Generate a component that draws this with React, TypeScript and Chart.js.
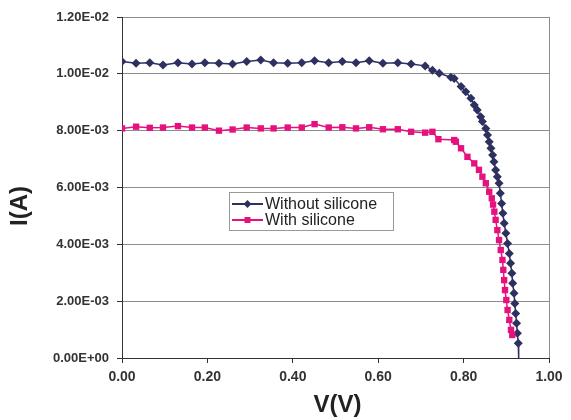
import React, { useEffect, useRef } from "react";
import { Chart, registerables } from "chart.js";

Chart.register(...registerables);

// Voltage (V) and current (A) — without silicone
const V_WITHOUT = [
  0.0, 0.033, 0.065, 0.096, 0.131, 0.164, 0.194, 0.227, 0.259, 0.292, 0.325, 0.355, 0.388, 0.421, 0.451, 0.484,
  0.516, 0.548, 0.579, 0.611, 0.646, 0.677, 0.71, 0.727, 0.743, 0.77, 0.778, 0.794, 0.805, 0.817, 0.825, 0.832,
  0.84, 0.844, 0.852, 0.856, 0.86, 0.864, 0.868, 0.871, 0.875, 0.879, 0.883, 0.886, 0.889, 0.892, 0.895, 0.899,
  0.903, 0.907, 0.91, 0.913, 0.915, 0.918, 0.92, 0.922, 0.924, 0.926, 0.928, 0.929,
];
const I_WITHOUT = [
  0.01043, 0.01037, 0.01039, 0.01031, 0.01039, 0.01035, 0.01039, 0.01037, 0.01035, 0.01043, 0.01049, 0.01039,
  0.01037, 0.01039, 0.01046, 0.01039, 0.01043, 0.01039, 0.01046, 0.01037, 0.01039, 0.01035, 0.01028, 0.01013,
  0.01002, 0.00988, 0.00984, 0.00955, 0.00937, 0.00914, 0.0089, 0.00873, 0.00849, 0.00832, 0.00808, 0.00785,
  0.00761, 0.00738, 0.00714, 0.00691, 0.00662, 0.00638, 0.00615, 0.0058, 0.00544, 0.00509, 0.00474, 0.00439,
  0.00403, 0.00368, 0.00333, 0.00298, 0.00263, 0.00228, 0.00192, 0.00157, 0.00122, 0.00087, 0.00052, 0.0,
];

// Voltage (V) and current (A) — with silicone
const V_WITH = [
  0.0, 0.033, 0.065, 0.096, 0.131, 0.164, 0.194, 0.227, 0.259, 0.292, 0.325, 0.355, 0.388, 0.421, 0.451, 0.484,
  0.516, 0.548, 0.579, 0.611, 0.646, 0.677, 0.71, 0.727, 0.741, 0.778, 0.782, 0.794, 0.809, 0.825, 0.836, 0.844,
  0.852, 0.86, 0.866, 0.869, 0.872, 0.875, 0.879, 0.883, 0.887, 0.891, 0.893, 0.895, 0.897, 0.9, 0.903, 0.907,
  0.911, 0.914,
];
const I_WITH = [
  0.00808, 0.00814, 0.0081, 0.00811, 0.00816, 0.00811, 0.00811, 0.008, 0.00804, 0.00811, 0.00808, 0.00808,
  0.00811, 0.00811, 0.00823, 0.00811, 0.00812, 0.00808, 0.00812, 0.00805, 0.00805, 0.00796, 0.00793, 0.00796,
  0.0077, 0.00767, 0.00761, 0.00738, 0.00708, 0.00685, 0.00662, 0.00638, 0.00615, 0.00585, 0.00562, 0.0054,
  0.00515, 0.00486, 0.0045, 0.00415, 0.0038, 0.00345, 0.0031, 0.00274, 0.00239, 0.00204, 0.00169, 0.00134,
  0.00099, 0.00081,
];

const SERIES_NAMES = ["Without silicone", "With silicone"];
const X_TITLE = "V(V)";
const Y_TITLE = "I(A)";
const X_MIN = 0;
const X_MAX = 1;
const X_STEP = 0.2;
const Y_MIN = 0;
const Y_MAX = 0.012;
const Y_STEP = 0.002;

const NAVY = "#2e3060";
const MAGENTA = "#e5127d";
const FONT = '"Liberation Sans", Arial, sans-serif';

function sci(v: number): string {
  if (Math.abs(v) < 1e-12) return "0.00E+00";
  const exp = Math.floor(Math.log10(Math.abs(v)) + 1e-9);
  const mant = v / Math.pow(10, exp);
  const sign = exp < 0 ? "-" : "+";
  const e = Math.abs(exp).toString().padStart(2, "0");
  return mant.toFixed(2) + "E" + sign + e;
}

const overlayPlugin = {
  id: "overlay",
  afterDraw(chart: any) {
    const { ctx, chartArea } = chart;
    const { left, right, top, bottom } = chartArea;
    ctx.save();
    // right border of plot area
    ctx.strokeStyle = "#8c8c8c";
    ctx.lineWidth = 1;
    ctx.beginPath();
    ctx.moveTo(Math.round(right) + 0.5, top);
    ctx.lineTo(Math.round(right) + 0.5, bottom);
    ctx.stroke();

    // axis titles
    ctx.fillStyle = "#222";
    ctx.font = "bold 24px " + FONT;
    ctx.textAlign = "center";
    ctx.textBaseline = "middle";
    ctx.fillText(X_TITLE, (left + right) / 2 + 2, 405);
    ctx.save();
    ctx.translate(20, 206);
    ctx.rotate(-Math.PI / 2);
    ctx.fillText(Y_TITLE, 0, 0);
    ctx.restore();

    // legend
    const bx = 229.5, by = 192.5, bw = 164, bh = 38;
    ctx.fillStyle = "#fff";
    ctx.fillRect(bx, by, bw, bh);
    ctx.strokeStyle = "#999";
    ctx.lineWidth = 1;
    ctx.strokeRect(bx, by, bw, bh);
    const rows = [
      { name: SERIES_NAMES[0], color: NAVY, style: "diamond", y: 204 },
      { name: SERIES_NAMES[1], color: MAGENTA, style: "square", y: 220 },
    ];
    rows.forEach((r) => {
      ctx.strokeStyle = r.color;
      ctx.lineWidth = 2;
      ctx.beginPath();
      ctx.moveTo(232, r.y);
      ctx.lineTo(263, r.y);
      ctx.stroke();
      ctx.fillStyle = r.color;
      ctx.beginPath();
      if (r.style === "diamond") {
        ctx.moveTo(247.5, r.y - 4);
        ctx.lineTo(251.5, r.y);
        ctx.lineTo(247.5, r.y + 4);
        ctx.lineTo(243.5, r.y);
        ctx.closePath();
      } else {
        ctx.rect(244.5, r.y - 3, 6, 6);
      }
      ctx.fill();
      ctx.fillStyle = "#222";
      ctx.font = "16px " + FONT;
      ctx.textAlign = "left";
      ctx.textBaseline = "middle";
      ctx.fillText(r.name, 265, r.y + 1);
    });
    ctx.restore();
  },
};

export default function App() {
  const canvasRef = useRef<HTMLCanvasElement | null>(null);

  useEffect(() => {
    if (!canvasRef.current) return;
    const withoutData = V_WITHOUT.map((v, i) => ({ x: v, y: I_WITHOUT[i] }));
    const withData = V_WITH.map((v, i) => ({ x: v, y: I_WITH[i] }));
    const lastWithout = withoutData.length - 1;

    const chart = new Chart(canvasRef.current, {
      type: "line",
      data: {
        datasets: [
          {
            label: SERIES_NAMES[1],
            data: withData,
            borderColor: MAGENTA,
            backgroundColor: MAGENTA,
            borderWidth: 1.5,
            pointStyle: "rect",
            pointRadius: 4.5,
            pointBorderWidth: 0,
            tension: 0,
          },
          {
            label: SERIES_NAMES[0],
            data: withoutData,
            borderColor: NAVY,
            backgroundColor: NAVY,
            borderWidth: 1.5,
            pointStyle: "rectRot",
            pointRadius: (c: any) => (c.dataIndex === lastWithout ? 0 : 4.5),
            pointBorderWidth: 0,
            tension: 0,
          },
        ],
      },
      options: {
        animation: false,
        responsive: true,
        maintainAspectRatio: false,
        layout: { padding: { top: 17, right: 22, left: 0, bottom: 0 } },
        plugins: {
          legend: { display: false },
          tooltip: { enabled: false },
        },
        scales: {
          x: {
            type: "linear",
            min: X_MIN,
            max: X_MAX,
            border: { display: true, color: "#333", width: 1 },
            grid: {
              display: true,
              drawOnChartArea: false,
              drawTicks: true,
              tickLength: 5,
              tickColor: "#333",
            },
            ticks: {
              stepSize: X_STEP,
              padding: 6,
              color: "#333",
              font: { family: FONT, size: 14, weight: "bold" },
              maxRotation: 0,
              callback: (v: any) => Number(v).toFixed(2),
            },
            afterFit: (s: any) => {
              s.height = 62;
            },
          },
          y: {
            type: "linear",
            min: Y_MIN,
            max: Y_MAX,
            border: { display: true, color: "#333", width: 1 },
            grid: {
              color: "#8c8c8c",
              lineWidth: 1,
              drawTicks: true,
              tickLength: 5,
              tickColor: "#333",
            },
            ticks: {
              stepSize: Y_STEP,
              padding: 8,
              color: "#333",
              font: { family: FONT, size: 13, weight: "bold" },
              callback: (v: any) => sci(Number(v)),
            },
            afterFit: (s: any) => {
              s.width = 122;
            },
          },
        },
      },
      plugins: [overlayPlugin],
    });
    return () => chart.destroy();
  }, []);

  return (
    <div style={{ position: "fixed", left: 0, top: 0, width: 571, height: 420, background: "#fff" }}>
      <canvas ref={canvasRef} />
    </div>
  );
}
